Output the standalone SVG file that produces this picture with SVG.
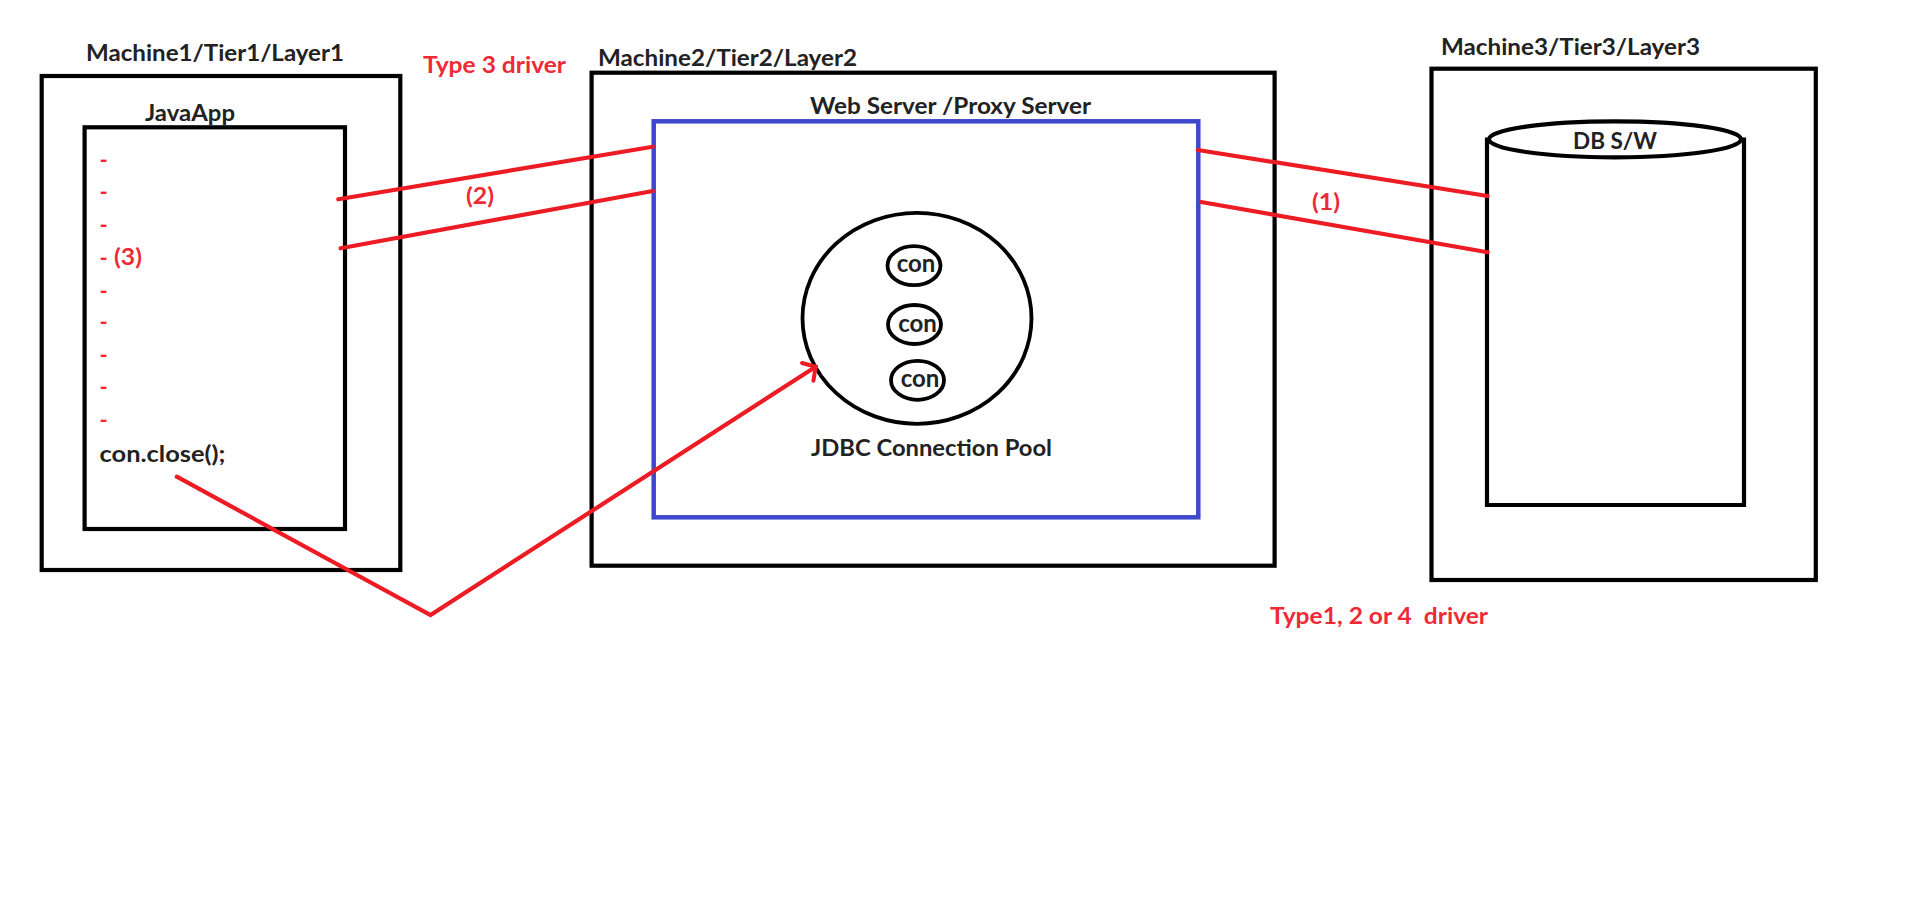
<svg xmlns="http://www.w3.org/2000/svg" width="1913" height="897" viewBox="0 0 1913 897">
<style>
.box{fill:none;stroke:#000;stroke-width:4.2}
.blue{fill:none;stroke:#3F48CC;stroke-width:4.5}
.lbl{font-family:Lato,"Liberation Sans",sans-serif;font-weight:bold;font-size:22px;fill:#222}
.red{font-family:Lato,"Liberation Sans",sans-serif;font-weight:bold;font-size:22px;fill:#EE2A36;white-space:pre}
.con{font-family:Lato,"Liberation Sans",sans-serif;font-weight:bold;font-size:24px;fill:#222;text-anchor:middle}
.wire{fill:none;stroke:#ED1C24;stroke-width:4.2;stroke-linecap:round;stroke-linejoin:miter}
.circ{fill:none;stroke:#000;stroke-width:3.8}
</style>
<defs>
<marker id="openArrow" markerUnits="userSpaceOnUse" markerWidth="30" markerHeight="30" viewBox="-15 -15 30 30" refX="0" refY="0" orient="auto">
<path d="M-9.5,-10.5 L0,0 L-9.5,10.5" fill="none" stroke="#ED1C24" stroke-width="4" stroke-linecap="round"/>
</marker>
</defs>
<rect width="1913" height="897" fill="#fff"/>

<g id="machine1">
<rect class="box" x="41.7" y="76" width="358.6" height="494"/>
<text class="lbl" x="86" y="60.7" textLength="258" lengthAdjust="spacingAndGlyphs">Machine1/Tier1/Layer1</text>
</g>

<g id="javaapp">
<rect class="box" x="84.6" y="127.3" width="260.4" height="401.7"/>
<text class="lbl" x="145" y="120.7" textLength="90" lengthAdjust="spacingAndGlyphs">JavaApp</text>
<text class="red" x="99.5" y="167.5">-</text>
<text class="red" x="99.5" y="200">-</text>
<text class="red" x="99.5" y="233">-</text>
<text class="red" x="99.5" y="265.5">-</text>
<text class="red" x="99.5" y="298.5">-</text>
<text class="red" x="99.5" y="330">-</text>
<text class="red" x="99.5" y="363">-</text>
<text class="red" x="99.5" y="395">-</text>
<text class="red" x="99.5" y="427.5">-</text>
<text class="red" x="114" y="264.5" textLength="28" lengthAdjust="spacingAndGlyphs">(3)</text>
<text class="lbl" x="99.5" y="461.7" textLength="126" lengthAdjust="spacingAndGlyphs">con.close();</text>
</g>

<g id="type3-label">
<text class="red" x="423" y="72.5" textLength="143" lengthAdjust="spacingAndGlyphs">Type 3 driver</text>
</g>

<g id="machine2">
<rect class="box" x="591.6" y="72.7" width="683" height="493"/>
<text class="lbl" x="598" y="65.7" textLength="259" lengthAdjust="spacingAndGlyphs">Machine2/Tier2/Layer2</text>
</g>

<g id="webserver">
<rect class="blue" x="653.7" y="121.3" width="544.6" height="396"/>
<text class="lbl" x="810" y="114" textLength="281" lengthAdjust="spacingAndGlyphs">Web Server /Proxy Server</text>
</g>

<g id="pool">
<ellipse class="circ" cx="917" cy="318.3" rx="114.5" ry="105.5"/>
<text class="lbl" x="811" y="456" textLength="241" lengthAdjust="spacingAndGlyphs">JDBC Connection Pool</text>
</g>

<g id="con1">
<ellipse class="circ" cx="914" cy="265.7" rx="26.5" ry="19.5"/>
<text class="con" x="916" y="272.3">con</text>
</g>
<g id="con2">
<ellipse class="circ" cx="914.5" cy="324.5" rx="26.5" ry="19.5"/>
<text class="con" x="917.5" y="331.5">con</text>
</g>
<g id="con3">
<ellipse class="circ" cx="917.5" cy="380.3" rx="26.5" ry="19.5"/>
<text class="con" x="920" y="387.3">con</text>
</g>

<g id="machine3">
<rect class="box" x="1431.5" y="68.7" width="384.3" height="511.3"/>
<text class="lbl" x="1441" y="55" textLength="259" lengthAdjust="spacingAndGlyphs">Machine3/Tier3/Layer3</text>
</g>

<g id="db">
<path class="box" d="M1487,137.5 V505 H1744 V137.5"/>
<ellipse class="box" cx="1615" cy="139.3" rx="126" ry="18"/>
<text class="lbl" x="1573" y="149" textLength="84" lengthAdjust="spacingAndGlyphs">DB S/W</text>
</g>

<g id="type124-label">
<text class="red" x="1270" y="624" textLength="218" lengthAdjust="spacingAndGlyphs">Type1, 2 or 4  driver</text>
</g>

<g id="connectors">
<line class="wire" x1="338.3" y1="199.3" x2="652.8" y2="146.7"/>
<line class="wire" x1="340.6" y1="248.3" x2="652.8" y2="191"/>
<text class="red" x="466" y="204" textLength="28" lengthAdjust="spacingAndGlyphs">(2)</text>
<line class="wire" x1="1197.8" y1="150" x2="1487.6" y2="196"/>
<line class="wire" x1="1201" y1="202" x2="1487.6" y2="252.3"/>
<text class="red" x="1312" y="209.5" textLength="28" lengthAdjust="spacingAndGlyphs">(1)</text>
<polyline class="wire" points="176.8,476.7 430.5,615 815.7,366.7" marker-end="url(#openArrow)"/>
</g>
</svg>
